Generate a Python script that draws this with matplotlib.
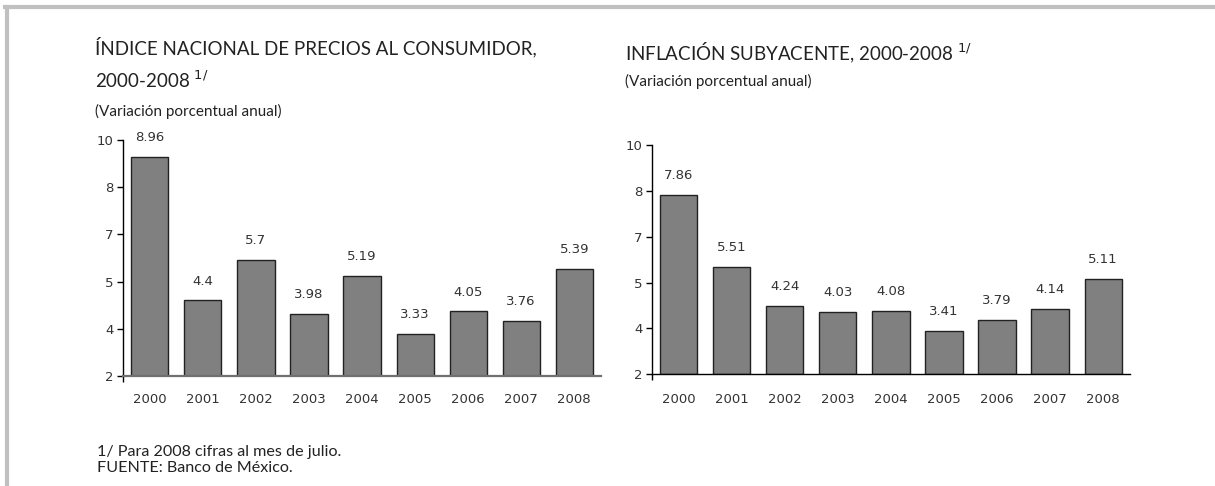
import numpy as np
import matplotlib.pyplot as plt
from matplotlib.lines import Line2D

years = ['2000', '2001', '2002', '2003', '2004', '2005', '2006', '2007', '2008']
inpc = [8.96, 4.4, 5.7, 3.98, 5.19, 3.33, 4.05, 3.76, 5.39]
subyacente = [7.86, 5.51, 4.24, 4.03, 4.08, 3.41, 3.79, 4.14, 5.11]

y_ticks = np.arange(2, 9.6, 1.5)   # shown rounded: 2, 4, 5, 7, 8, 10

W, H = 1215, 486
fig = plt.figure(figsize=(W / 100, H / 100), dpi=100)

txt = '#222222'
title_font = 'Lato'

def px(x, y):
    return x / W, 1 - y / H

def box(x0, x1, ytop, ybot):
    return [x0 / W, 1 - ybot / H, (x1 - x0) / W, (ybot - ytop) / H]

def draw(ax, vals, axis_col, axis_lw, xpad):
    x = np.arange(len(years))
    ax.bar(x, np.array(vals) - 2, bottom=2, width=0.7, color='#808080',
           edgecolor='#222222', linewidth=1.0, zorder=2)
    for xi, v in zip(x, vals):
        ax.annotate(f'{v:g}', (xi, v), xytext=(0, 14), textcoords='offset points',
                    ha='center', va='center', fontsize=9.5, color='#333333')
    ax.set_xlim(-0.5, len(years) - 0.5)
    ax.set_ylim(2, 9.5)
    ax.set_yticks(y_ticks)
    ax.set_yticklabels([str(int(np.floor(t + 0.5))) for t in y_ticks])
    ax.set_xticks(x)
    ax.set_xticklabels(years)
    ax.set_xticks([-0.5], minor=True)
    ax.tick_params(axis='x', which='major', length=0, pad=xpad, labelsize=9.5, labelcolor='#333333')
    ax.tick_params(axis='x', which='minor', length=4, width=1, color='#000000')
    ax.tick_params(axis='y', length=4, width=1, pad=3, labelsize=9.5, labelcolor='#333333')
    for s in ['top', 'right']:
        ax.spines[s].set_visible(False)
    ax.spines['left'].set_linewidth(1)
    ax.spines['bottom'].set_color(axis_col)
    ax.spines['bottom'].set_linewidth(axis_lw)
    ax.spines['bottom'].set_zorder(3)

ax1 = fig.add_axes(box(123.3, 600.8, 140, 376))
draw(ax1, inpc, '#707070', 1.6, 12.3)
ax2 = fig.add_axes(box(652.3, 1129.6, 145, 374.3))
draw(ax2, subyacente, '#000000', 1.0, 13.6)

# titles
fig.text(*px(95, 54), 'ÍNDICE NACIONAL DE PRECIOS AL CONSUMIDOR,', fontsize=13.5,
         family=title_font, color=txt, va='baseline')
fig.text(*px(95, 88), '2000-2008 $^{1/}$', fontsize=13.5, family=title_font, color=txt, va='baseline')
fig.text(*px(95, 116), '(Variación porcentual anual)', fontsize=11, family=title_font, color=txt, va='baseline')

fig.text(*px(625, 60.7), 'INFLACIÓN SUBYACENTE, 2000-2008 $^{1/}$', fontsize=13.5,
         family=title_font, color=txt, va='baseline')
fig.text(*px(625, 86), '(Variación porcentual anual)', fontsize=11, family=title_font, color=txt, va='baseline')

fig.text(*px(97, 455.5), '1/ Para 2008 cifras al mes de julio.', fontsize=11.6, family=title_font,
         color=txt, va='baseline')
fig.text(*px(97, 471.7), 'FUENTE: Banco de México.', fontsize=11.6, family=title_font,
         color=txt, va='baseline')

# gray frame (top and left)
fig.add_artist(Line2D([7 / W, 7 / W], [0, 1 - 7 / H], color='#c0c0c0', linewidth=3,
                      transform=fig.transFigure))
fig.add_artist(Line2D([5 / W, 1], [1 - 7 / H, 1 - 7 / H], color='#c0c0c0', linewidth=3,
                      transform=fig.transFigure))

fig.savefig('out.png', dpi=100)
